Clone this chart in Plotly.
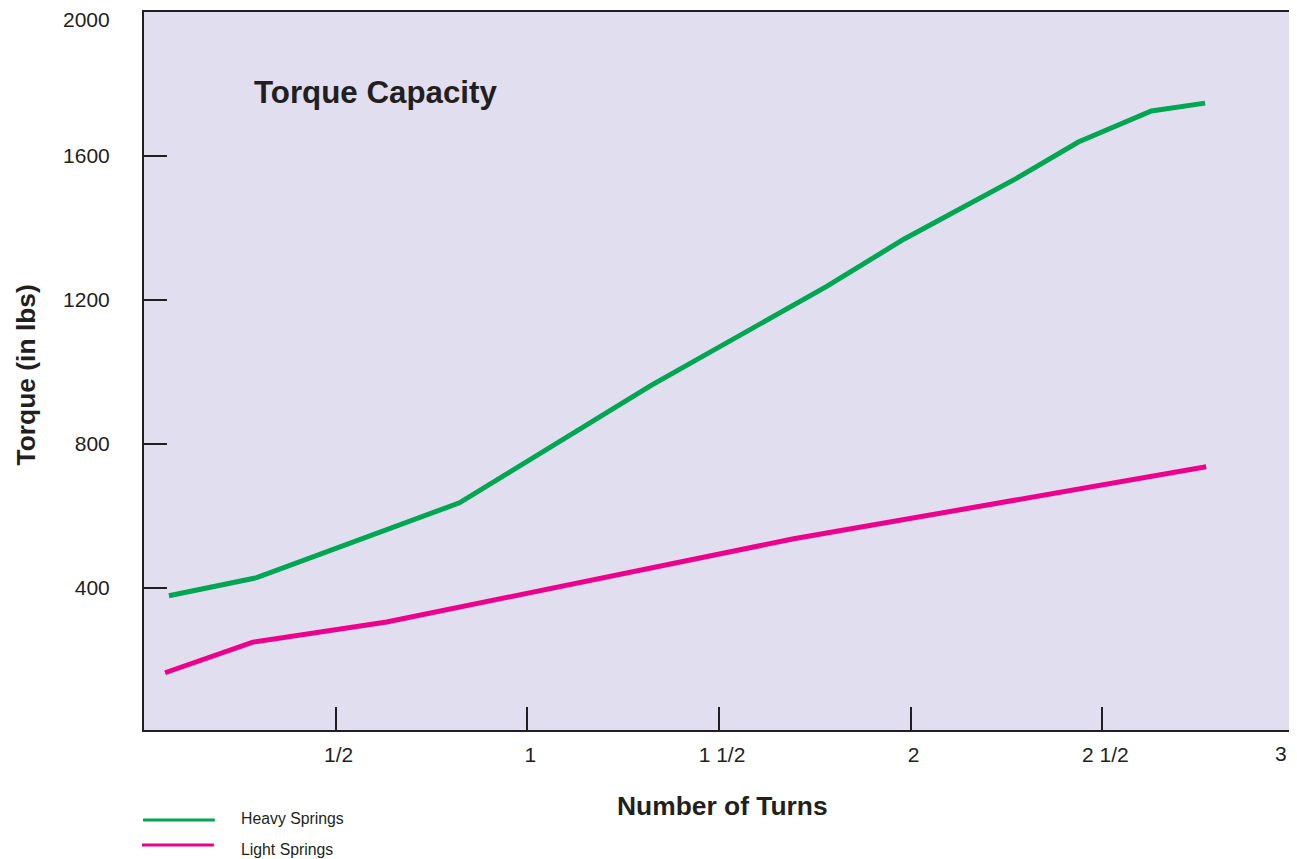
import plotly.graph_objects as go

# Data (turns, torque in lbs)
heavy_turns = [0.065, 0.294, 0.823, 1.323, 1.781, 1.982, 2.276, 2.4375, 2.628, 2.768]
heavy_torque = [379, 429, 637, 963, 1238, 1369, 1538, 1639, 1725, 1747]
light_turns = [0.055, 0.284, 0.633, 1.695, 2.771]
light_torque = [165, 250, 306, 537, 737]

x_tickvals = [0.5, 1, 1.5, 2, 2.5]
x_ticktext = ["1/2", "1", "1 1/2", "2", "2 1/2"]
y_tickvals = [400, 800, 1200, 1600]
y_ticktext = ["400", "800", "1200", "1600"]

GREEN = "#00A651"
PINK = "#EC008C"
INK = "#231F20"
BG = "#E1DEEF"
FONT = "Liberation Sans, Arial, sans-serif"

fig = go.Figure()
fig.add_trace(go.Scatter(x=heavy_turns, y=heavy_torque, mode="lines",
                         line=dict(color=GREEN, width=5), name="Heavy Springs"))
fig.add_trace(go.Scatter(x=light_turns, y=light_torque, mode="lines",
                         line=dict(color=PINK, width=5), name="Light Springs"))

# page body has an 8px margin: figure is sized/offset to compensate
fig.update_layout(
    width=1289, height=851,
    margin=dict(l=136, r=1, t=4, b=129),
    paper_bgcolor="white",
    plot_bgcolor=BG,
    showlegend=False,
    font=dict(family=FONT, color=INK),
)

fig.update_xaxes(
    range=[0, 3], tickvals=x_tickvals, ticktext=x_ticktext,
    ticks="inside", ticklen=23, tickwidth=2, tickcolor=INK,
    showline=True, linewidth=2, linecolor=INK, mirror=True,
    showgrid=False, zeroline=False,
    tickfont=dict(size=21, color=INK, family=FONT),
    ticklabelstandoff=5, ticklabelshift=3,
)
fig.update_yaxes(
    range=[6, 2000], tickvals=y_tickvals, ticktext=y_ticktext,
    ticks="inside", ticklen=23, tickwidth=2, tickcolor=INK,
    showline=True, linewidth=2, linecolor=INK, mirror=True,
    showgrid=False, zeroline=False,
    tickfont=dict(size=21, color=INK, family=FONT),
    ticklabelstandoff=28,
)

annotations = [
    dict(text="<b>Torque Capacity</b>", xref="paper", yref="paper",
         x=(252 - 144) / 1152, y=(730 - 93) / 718, xanchor="left", yanchor="middle",
         showarrow=False, font=dict(size=31.3, color=INK, family=FONT)),
    dict(text="<b>Number of Turns</b>", xref="paper", yref="paper",
         x=(723.5 - 144) / 1152, y=(730 - 806) / 718, xanchor="center", yanchor="middle",
         showarrow=False, font=dict(size=26.4, color=INK, family=FONT)),
    dict(text="<b>Torque (in lbs)</b>", xref="paper", yref="paper",
         x=0, xshift=-(144 - 25.5), y=(730 - 375) / 718, xanchor="center", yanchor="middle",
         textangle=-90, showarrow=False,
         font=dict(size=26.4, color=INK, family=FONT)),
    dict(text="2000", xref="paper", yref="y", x=0, xshift=-32, y=2000, yshift=-7.5,
         xanchor="right", yanchor="middle", showarrow=False,
         font=dict(size=21, color=INK, family=FONT)),
    dict(text="3", xref="x", yref="paper", x=3, xshift=-13, y=(730 - 753) / 718,
         xanchor="center", yanchor="middle", showarrow=False,
         font=dict(size=21, color=INK, family=FONT)),
    dict(text="Heavy Springs", xref="paper", yref="paper",
         x=(239 - 144) / 1152, y=(730 - 819) / 718, xanchor="left", yanchor="middle",
         showarrow=False, font=dict(size=15.8, color=INK, family=FONT)),
    dict(text="Light Springs", xref="paper", yref="paper",
         x=(239 - 144) / 1152, y=(730 - 849) / 718, xanchor="left", yanchor="middle",
         showarrow=False, font=dict(size=15.8, color=INK, family=FONT)),
]
fig.update_layout(annotations=annotations)

shapes = [
    dict(type="line", xref="paper", yref="paper",
         x0=(143 - 144) / 1152, x1=(215 - 144) / 1152,
         y0=(730 - 820) / 718, y1=(730 - 820) / 718,
         line=dict(color=GREEN, width=3)),
    dict(type="line", xref="paper", yref="paper",
         x0=(142 - 144) / 1152, x1=(214 - 144) / 1152,
         y0=(730 - 845) / 718, y1=(730 - 845) / 718,
         line=dict(color=PINK, width=3)),
]
fig.update_layout(shapes=shapes)

fig.write_html("out.html")
